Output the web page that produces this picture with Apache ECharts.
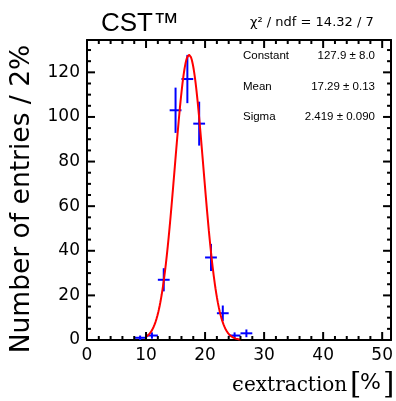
<!DOCTYPE html>
<html><head><meta charset="utf-8">
<script src="https://cdn.jsdelivr.net/npm/echarts@6/dist/echarts.min.js"></script>
<style>html,body{margin:0;padding:0;background:#fff}#c{width:396px;height:401px}</style>
</head><body><div id="c"></div>
<script>
// ---- data ----
const binCenters = [9, 11, 13, 15, 17, 19, 21, 23, 25, 27];
const binCounts  = [1, 2, 27, 103, 117, 97, 37, 12, 2, 3];
const binHalfWidth = 1;
const fitParams = [127.9, 17.29, 2.419]; // Constant, Mean, Sigma
const fitRange = [10, 26];
const xTickValues = [0, 10, 20, 30, 40, 50];
const xMinorTickValues = [2, 4, 6, 8, 12, 14, 16, 18, 22, 24, 26, 28, 32, 34, 36, 38, 42, 44, 46, 48];
const yTickValues = [0, 20, 40, 60, 80, 100, 120];
const yMinorTickValues = [5, 10, 15, 25, 30, 35, 45, 50, 55, 65, 70, 75, 85, 90, 95, 105, 110, 115, 125, 130];
const statNames  = ['Constant', 'Mean', 'Sigma'];
const statValues = ['127.9 \u00b1 8.0', '17.29 \u00b1 0.13', '2.419 \u00b1 0.090'];
const chiText = '\u03c7\u00b2 / ndf = 14.32 / 7';

// ---- build ----
const errData = binCenters.map((x, i) => [x, binCounts[i], Math.sqrt(binCounts[i])]);
const fitCurve = [];
for (let k = 0; k <= 200; k++) {
  const x = fitRange[0] + (fitRange[1] - fitRange[0]) * k / 200;
  const z = (x - fitParams[1]) / fitParams[2];
  fitCurve.push([x, fitParams[0] * Math.exp(-0.5 * z * z)]);
}
// tick marks: [axis(0=x,1=y), value, length]
const tickData = [];
xTickValues.forEach(v => tickData.push([0, v, 8]));
xMinorTickValues.forEach(v => tickData.push([0, v, 4]));
yTickValues.forEach(v => tickData.push([1, v, 8]));
yMinorTickValues.forEach(v => tickData.push([1, v, 4]));

const chart = echarts.init(document.getElementById('c'), null, {renderer: 'canvas'});
const axLine = {show: true, onZero: false, lineStyle: {color: '#000', width: 2}};
const tickFont = 'DejaVu Sans';
function xAx(pos, labels) {
  return {
    type: 'value', position: pos, min: 0, max: 51.5, interval: 10,
    axisLine: axLine, axisTick: {show: false}, minorTick: {show: false},
    axisLabel: {show: labels, color: '#000', fontSize: 17, fontFamily: tickFont, margin: 7,
      showMaxLabel: false, formatter: v => (xTickValues.indexOf(v) >= 0 ? String(v) : '')},
    splitLine: {show: false}
  };
}
function yAx(pos, labels) {
  return {
    type: 'value', position: pos, min: 0, max: 134.5, interval: 20,
    axisLine: axLine, axisTick: {show: false}, minorTick: {show: false},
    axisLabel: {show: labels, color: '#000', fontSize: 17, fontFamily: tickFont, margin: 7,
      showMaxLabel: false, formatter: v => (yTickValues.indexOf(v) >= 0 ? String(v) : '')},
    splitLine: {show: false}
  };
}

const graphics = [
  {type: 'text', left: 101, top: 11, style: {text: 'CST\u2122', font: '26px "Liberation Sans"', fill: '#000'}},
  {type: 'text', x: 250, y: 23, style: {text: chiText, font: '13px "DejaVu Sans"', fill: '#000', textVerticalAlign: 'middle'}},
  {type: 'text', x: 22, y: 199, rotation: Math.PI / 2,
    style: {text: 'Number of entries / 2%', font: '26.5px "DejaVu Sans"', fill: '#000', textAlign: 'center', textVerticalAlign: 'middle'}},
  {type: 'text', x: 232, y: 386, style: {text: '\u03f5', font: '21px "DejaVu Serif"', fill: '#000', textVerticalAlign: 'middle'}},
  {type: 'text', x: 244, y: 386, style: {text: 'extraction', font: '20px "DejaVu Serif"', fill: '#000', textVerticalAlign: 'middle'}},
  {type: 'text', x: 350, y: 385, style: {text: '[', font: '29px "DejaVu Serif"', fill: '#000', textVerticalAlign: 'middle'}},
  {type: 'text', x: 360, y: 383.5, style: {text: '%', font: '22px "DejaVu Sans"', fill: '#000', textVerticalAlign: 'middle'}},
  {type: 'text', x: 383, y: 385, style: {text: ']', font: '29px "DejaVu Serif"', fill: '#000', textVerticalAlign: 'middle'}}
];
const statY = [56, 87, 117];
statNames.forEach((n, i) => {
  graphics.push({type: 'text', x: 243, y: statY[i], style: {text: n, font: '11.5px "Liberation Sans"', fill: '#000', textVerticalAlign: 'middle'}});
  graphics.push({type: 'text', x: 375, y: statY[i], style: {text: statValues[i], font: '11.5px "Liberation Sans"', fill: '#000', textAlign: 'right', textVerticalAlign: 'middle'}});
});

chart.setOption({
  animation: false,
  backgroundColor: '#fff',
  grid: {left: 87, right: 4, top: 40, bottom: 61},
  xAxis: [xAx('bottom', true), xAx('top', false)],
  yAxis: [yAx('left', true), yAx('right', false)],
  graphic: graphics,
  series: [
    {
      type: 'custom', xAxisIndex: 0, yAxisIndex: 0, data: tickData, clip: false, silent: true, z: 4,
      encode: {x: 1, y: 1},
      renderItem: function (params, api) {
        const cs = params.coordSys;
        const kind = api.value(0), v = api.value(1), len = api.value(2);
        const st = {stroke: '#000', lineWidth: 2};
        if (kind === 0) {
          const px = api.coord([v, 0])[0];
          return {type: 'group', children: [
            {type: 'line', shape: {x1: px, y1: cs.y + cs.height, x2: px, y2: cs.y + cs.height - len}, style: st},
            {type: 'line', shape: {x1: px, y1: cs.y, x2: px, y2: cs.y + len}, style: st}
          ]};
        }
        const py = api.coord([0, v])[1];
        return {type: 'group', children: [
          {type: 'line', shape: {x1: cs.x, y1: py, x2: cs.x + len, y2: py}, style: st},
          {type: 'line', shape: {x1: cs.x + cs.width, y1: py, x2: cs.x + cs.width - len, y2: py}, style: st}
        ]};
      }
    },
    {
      type: 'custom', xAxisIndex: 0, yAxisIndex: 0, data: errData, clip: true,
      renderItem: function (params, api) {
        const x = api.value(0), y = api.value(1), e = api.value(2);
        const pL = api.coord([x - binHalfWidth, y]);
        const pR = api.coord([x + binHalfWidth, y]);
        const pT = api.coord([x, y + e]);
        const pB = api.coord([x, Math.max(0, y - e)]);
        const st = {stroke: '#0000ff', lineWidth: 2};
        return {type: 'group', children: [
          {type: 'line', shape: {x1: pL[0], y1: pL[1], x2: pR[0], y2: pR[1]}, style: st},
          {type: 'line', shape: {x1: pT[0], y1: pT[1], x2: pB[0], y2: pB[1]}, style: st}
        ]};
      }
    },
    {
      type: 'line', xAxisIndex: 0, yAxisIndex: 0, data: fitCurve, showSymbol: false, symbol: 'none',
      lineStyle: {color: '#ff0000', width: 2}, z: 3
    }
  ]
});
</script></body></html>
